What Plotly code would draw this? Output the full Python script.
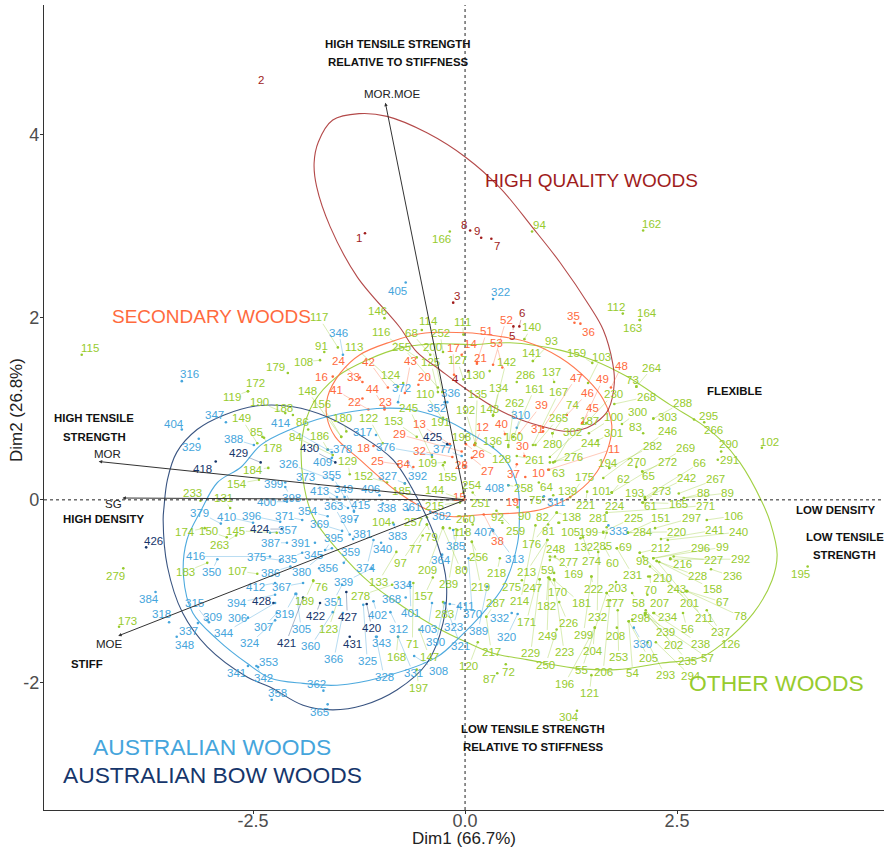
import plotly.graph_objects as go

# ---------- values ----------
hq_ids = [1,2,3,4,5,6,7,8,9]
hq_dim1 = [-1.18,-2.41,-.14,.04,.57,.64,.31,.06,.19]
hq_dim2 = [2.92,4.60,2.16,1.41,1.90,1.90,2.86,2.95,2.87]
hq_dx = [-6,0,4,-13,-1,3,6,-6,-4]
hq_dy = [5,0,-7,8,10,-13,7,-6,-7]

sec_ids = [10,11,12,13,14,15,16,17,18,19,20,21,22,23,24,25,26,27,28,29,30,31,32,33,34,35,36,37,38,39,40,41,42,43,44,45,46,47,48,49,51,52,53]
sec_dim1 = [.71,.98,.11,-.18,-.04,-.02,-1.56,-.13,-1.08,.61,-.55,.14,-1.21,-.95,-1.21,-.79,.01,.08,-.02,-.04,.70,.92,-.15,-1.24,-.61,1.29,1.36,.61,.22,.64,.47,-1.14,-.91,-.71,-.95,1.38,1.20,.92,1.72,1.39,.14,.33,.44]
sec_dim2 = [.25,.33,.60,.61,1.59,0,1.35,1.37,.59,0,1.26,1.49,1.11,.99,1.29,.39,.61,.46,.38,.53,.48,.75,.47,1.34,.36,1.94,1.93,.39,-.16,.73,.72,.99,1.23,1.17,1.01,.84,.93,.79,1.23,.85,1.51,1.48,1.45]
sec_dx = [13,66,8,-30,9,-4,-11,-1,-10,-4,6,4,-8,1,-24,-21,13,16,-2,-62,-2,-6,-33,-6,-10,-1,8,-3,14,22,-3,-32,-19,6,-12,10,21,33,11,20,10,13,-6]
sec_dy = [-4,-21,-18,-20,-11,-3,0,-27,2,2,-8,-6,3,-7,-21,-3,10,13,0,-17,-10,-2,-6,-1,-3,-7,8,10,27,-28,-10,-19,-26,-32,-19,-15,-22,-50,-22,-43,-31,-45,-24]

aus_ids = [305,306,307,308,309,310,311,312,313,315,316,317,318,319,320,321,322,323,324,325,326,327,328,329,330,331,332,333,334,335,336,337,338,339,340,341,342,343,344,345,346,347,348,349,350,351,352,353,354,355,356,357,358,359,360,361,362,363,364,365,366,367,368,369,370,371,372,373,374,375,376,377,378,379,380,381,382,383,384,385,386,387,388,389,390,391,392,394,395,396,397,398,399,400,401,402,403,404,405,406,407,408,409,410,411,412,413,414,415,416]
aus_dim1 = [-1.99,-2.56,-2.22,-.60,-3.02,.61,.93,-.88,.33,-3.04,-3.34,-1.05,-3.49,-2.00,.62,-.24,.33,-.08,-2.24,-1.20,-1.56,-.71,-1.05,-3.14,1.99,-.79,.55,1.69,-.65,-1.92,-.24,-3.15,-.97,-1.10,-.99,-2.56,-2.46,-1.04,-2.24,-1.57,-1.44,-2.82,-3.40,-1.31,-2.92,-1.45,-.21,-2.44,-1.62,-1.42,-1.72,-2.30,-2.28,-1.43,-1.56,-.67,-1.67,-1.36,-.27,-1.62,-1.44,-1.91,-.70,-1.45,.04,-1.92,-.79,-1.51,-1.08,-2.18,-.39,-.04,-1.62,-2.88,-1.69,-1.32,-.41,-.84,-3.65,-.14,-2.06,-2.10,-2.49,.26,-.24,-1.77,-.67,-2.24,-1.65,-2.18,-1.29,-2.12,-2.12,-2.10,-.65,-1.08,-.39,-3.34,-.70,-1.01,.33,.51,-1.57,-2.50,-.18,-2.24,-1.38,-1.57,-1.31,-2.30]
aus_dim2 = [-1.03,-1.29,-1.24,-1.71,-1.34,.79,.04,-1.23,-.34,-1.32,1.30,.71,-1.34,-1.03,-1.25,-1.13,2.20,-1.17,-1.32,-1.15,.22,.18,-1.50,.67,-1.40,-1.50,-1.24,-.28,-.90,-.58,1.07,-1.35,-.04,-.75,-.47,-1.82,-1.82,-1.50,-1.13,-.53,1.59,.85,-1.50,-.12,-.65,-.93,1.07,-1.83,-.18,.03,-.75,-.36,-2.19,-.69,-1.23,-.11,-2.09,-.38,-.60,-2.24,-1.24,-.91,-1.07,-.34,-.64,-.22,1.07,.03,-.44,-.66,.49,.48,.55,-.26,-.61,-.43,-.13,-.27,-1.01,-.33,-.73,-.47,.60,-.95,-1.13,-.47,.41,-1.04,-.55,-.24,-.22,.14,.19,-.02,-.93,-1.11,-1.13,.77,2.38,.05,-.33,.16,.46,-.25,-1.14,-.91,-.09,.52,-.13,-.62]
aus_dx = [5,-10,-13,24,4,4,12,8,21,-13,8,-14,-8,-11,-11,16,7,-5,-25,4,-44,-17,8,-7,9,15,-12,10,-7,-15,6,-9,4,-28,1,-11,7,5,-51,-18,-4,-11,8,-10,-6,-9,-11,10,-20,-13,9,17,6,7,-22,3,-7,-16,-1,-8,-9,-22,-14,-23,4,-18,3,-32,-7,-24,-46,-19,15,-21,-20,9,11,4,-7,2,-20,-16,-20,-9,-9,-14,9,-38,8,-29,-6,6,-12,-20,1,4,-4,-8,-8,-9,-10,-14,-9,-27,15,-20,-29,-51,7,-75]
aus_dy = [35,0,14,15,-5,-13,6,17,28,-17,-7,-3,-8,20,23,43,-7,20,23,56,-16,-7,40,8,16,36,5,6,3,6,-9,8,4,14,6,7,12,6,30,7,-22,-7,8,-22,13,17,6,-5,-5,-22,0,-3,-7,-11,34,-3,-7,-29,5,8,46,4,1,-7,56,-4,-14,-20,28,-3,-8,-7,-1,-11,16,-5,4,11,7,16,6,0,-6,44,39,0,14,8,-12,-6,-1,11,1,0,28,14,26,-6,8,-6,2,3,4,-6,2,4,-17,-29,-7,0]

bow_ids = [418,420,421,422,424,425,426,427,428,429,430,431]
bow_dim1 = [-2.94,-1.16,-1.91,-1.71,-2.16,-.21,-3.76,-1.40,-2.26,-2.41,-1.53,-1.36]
bow_dim2 = [.42,-1.14,-1.07,-1.13,-.32,.61,-.52,-1.01,-1.13,.41,.41,-1.50]
bow_dx = [-13,5,-17,-5,-22,-15,7,1,-12,-22,-26,3]
bow_dy = [7,24,45,13,0,-7,-6,25,-2,-9,-14,7]

oth_ids = [54,55,56,57,58,59,60,61,62,63,64,65,66,67,68,69,70,71,72,73,74,75,76,77,78,79,80,81,82,83,84,85,86,87,88,89,90,91,92,93,94,97,98,99,
 100,101,102,103,104,105,106,107,108,109,110,111,112,113,114,115,116,117,118,119,120,121,122,123,124,125,126,127,128,129,130,131,132,133,134,135,136,137,138,139,140,141,142,143,144,145,146,147,148,149,
 150,151,152,153,154,155,156,157,158,159,160,161,162,163,164,165,166,167,168,169,170,171,172,173,174,175,176,177,178,179,180,181,182,183,184,185,186,187,188,189,190,191,192,193,194,195,196,197,198,199,
 200,201,202,203,204,205,206,207,208,209,210,211,212,213,214,215,216,217,218,219,220,221,222,223,224,225,226,227,228,229,230,231,232,233,234,235,236,237,238,239,240,241,242,243,244,245,246,247,248,249,
 250,251,252,253,254,255,256,257,258,259,260,261,262,263,264,265,266,267,268,269,270,271,272,273,274,275,276,277,278,279,280,281,282,283,284,285,286,287,288,289,290,291,292,293,294,295,296,297,298,299,
 300,301,302,303,304]
oth_dim1 = [1.93,1.67,2.57,2.12,1.97,1.05,1.65,2.10,1.73,.99,.87,2.09,2.12,2.62,-.41,1.79,2.18,-.61,.48,2.02,1.03,.92,-1.79,-.50,2.61,-.45,-.26,1.11,.98,2.10,-1.56,-2.37,-1.85,.38,2.58,2.58,.62,-1.66,.44,.80,.79,-.45,2.06,2.22,
 1.46,1.73,3.50,1.45,-.85,1.10,2.85,-2.45,-1.71,-.24,-.26,-.02,1.86,-.79,-.51,-4.52,-.57,-1.50,-.18,-2.56,.15,1.49,-.97,-1.49,-.73,-.32,2.10,-.02,.11,-1.36,.29,-2.77,1.36,-.81,.33,.12,.33,1.05,1.08,1.04,.70,.80,.33,.33,-.02,-2.22,-.95,-.54,-1.46,-2.45,
 -2.81,1.92,-.92,-.57,-2.43,-.26,-1.46,-.38,2.29,1.50,.51,.57,2.10,2.06,2.06,2.09,-.18,.80,-.79,1.06,1.00,.97,-2.56,-4.08,-3.07,1.24,1.08,1.67,-2.39,-2.09,-1.40,1.05,.98,-3.04,-2.32,-.71,-1.62,1.00,-2.03,-1.79,-2.12,-.26,.12,2.12,1.70,4.04,1.53,-.57,.12,1.63,
 -.27,2.18,2.13,1.78,1.53,1.93,1.71,2.15,1.79,-.26,2.16,2.26,2.06,.97,.83,-.06,2.42,.25,.41,.08,1.92,1.44,1.49,1.05,1.67,1.63,1.11,2.46,2.26,.88,1.43,1.79,1.57,-3.12,2.23,2.12,2.90,2.85,2.22,2.13,2.39,2.31,2.12,2.61,1.04,-.39,1.63,.88,1.00,.99,
 1.08,.09,-.26,1.80,-.02,-.32,.08,-.45,.51,.37,.09,.61,.51,-2.70,2.02,.83,2.82,2.52,1.76,1.73,2.02,1.67,2.09,2.12,1.39,.67,1.00,1.00,-.86,-4.03,1.03,1.67,1.70,-.26,1.92,1.67,.61,.25,2.22,-.09,3.02,2.98,2.42,2.15,2.25,2.70,2.22,2.24,1.97,1.49,
 1.85,1.56,1.06,2.22,1.32]
oth_dim2 = [-1.33,-1.02,-1.24,-1.26,-1.02,-.80,-.53,-.03,.08,.33,.19,.31,.03,-1.00,1.59,-.53,-.84,-.91,-1.80,1.24,.73,.03,-.88,-.39,-1.00,-.27,-.31,-.25,-.27,.73,.49,.68,.77,-1.90,.02,.02,-.08,1.62,-.25,1.52,2.94,-.27,-.58,-.64,
 .73,.08,.57,1.28,-.25,-.25,-.22,-.81,1.53,.41,.88,1.81,2.04,1.24,1.86,1.59,1.56,1.67,-.31,1.19,-1.56,-1.92,.62,-1.07,1.28,1.18,-.62,1.32,.60,.28,1.41,-.09,-.42,-.57,.93,.60,.58,1.29,-.14,.05,1.76,1.52,.92,.93,0,-.36,1.99,-1.42,.69,.62,
 -.41,-.36,.19,.69,.22,.38,.69,-.85,-.68,1.50,.60,.69,2.95,1.97,1.97,-.03,2.94,.60,-1.50,-.62,-.87,-.44,1.19,-1.39,-.31,.03,-.14,-1.02,.69,1.39,.75,-.88,-.85,-.69,.35,.18,.55,.47,.93,-.89,.95,.90,.62,.03,.35,-.73,-1.40,-1.86,.62,-.36,
 1.18,-.73,-1.24,-.90,-1.40,-1.33,-1.10,-1.04,-1.40,-.30,-.84,-.67,-.58,-.44,-.28,-.03,-.64,-1.28,-.64,-.46,-.36,.09,-.84,-.87,-.14,-.35,-1.12,-.62,-.67,-.87,.84,-.53,-.57,-.01,-1.24,-1.24,-.76,-1.21,-1.24,-1.21,-.44,-.43,.02,-1.00,.41,.47,.24,-.87,-.66,-.85,
 -1.42,.08,1.62,-1.21,.08,1.23,-.46,-.19,.16,-.12,-.27,.48,.58,-.39,1.24,.60,.85,.07,1.05,.08,.36,-.14,.31,0,-.41,-.88,.41,-.62,-.93,-.75,.73,-.30,.35,-1.12,-.36,-.36,1.29,-1.28,.89,-.33,.53,.44,-.65,-1.56,-1.56,.88,-.64,-.31,-1.31,-.84,
 .83,.65,.42,.89,-2.31]
oth_dx = [4,-25,4,63,6,-7,8,7,12,9,8,6,55,35,-19,9,1,-1,3,-4,20,-8,8,-7,54,5,18,-11,-6,-8,-37,-8,-6,-8,20,44,7,-3,-5,19,7,-26,3,69,
 25,-10,8,13,-11,12,27,-20,-17,-17,-18,-1,-7,-44,7,8,-36,-19,12,-16,-9,-2,-14,-10,-12,-7,87,-6,27,-2,-14,-7,3,-18,6,2,-1,-3,15,14,7,-1,13,-4,-28,-41,-7,10,-34,-16,
 -18,33,-24,-23,-22,4,-20,-9,53,-16,5,21,8,-7,7,36,-8,26,-2,19,8,-21,8,8,-20,14,-25,8,10,-12,-4,27,-2,-22,-15,-3,-8,40,-9,-9,-26,-3,-10,-10,-1,-7,-30,2,-14,-15,
 -10,40,28,1,-2,20,-7,12,-1,-16,14,47,21,-21,-15,-25,12,5,-3,9,49,-2,2,10,8,30,9,40,41,-9,27,16,-1,-8,14,43,21,14,47,20,71,54,42,-10,38,-23,64,-7,6,-2,
 -11,8,-3,1,9,-36,7,-13,15,19,-7,18,6,-17,16,23,9,37,32,74,0,99,25,17,9,-10,24,19,-32,-8,0,-8,43,1,15,-4,9,9,29,-9,7,12,70,18,35,14,47,36,8,-8,
 16,16,18,14,-8]
oth_dy = [52,77,16,43,10,-3,15,3,-14,3,4,4,-34,11,-22,-1,13,61,8,-7,-28,3,7,14,25,12,42,8,-8,-6,-18,-6,-8,6,-5,-5,9,-6,-6,-20,-6,38,8,-11,
 -16,-2,-6,-26,-1,9,-4,-3,2,1,-26,-13,-7,-40,-9,-7,-25,-30,4,6,24,18,-25,31,-8,-30,88,-19,14,-13,4,-10,9,30,-27,-51,-6,-10,4,-4,-12,-8,-54,-6,-10,-2,-7,27,-46,-25,
 -6,-15,-7,-16,4,12,-33,19,27,-10,-8,-48,-7,8,-7,1,8,-53,20,18,13,82,-8,-6,4,-20,31,10,11,-6,-13,23,29,9,2,8,-14,-36,-7,20,-11,4,-33,-4,-5,7,56,18,-6,-1,
 -45,36,32,6,23,37,72,8,8,43,1,57,-5,32,76,3,6,35,15,45,-1,13,12,73,-7,-14,21,4,15,74,-29,27,65,-8,4,48,7,22,31,22,-8,-9,-20,-2,-19,-49,-47,9,-11,59,
 35,10,-19,47,-8,-41,15,5,3,20,-6,4,-44,10,-19,-27,8,-14,-7,-45,-5,-7,-10,-9,24,7,-5,6,11,8,11,-9,-22,12,-1,13,-7,-14,-16,54,-7,0,0,33,34,-4,-10,-10,-1,58,
 -12,-8,-30,-2,6]

vec_names = ["MOR.MOE","MOR","SG","MOE"]
vec_dim1 = [-.94,-4.32,-4.04,-4.09]
vec_dim2 = [4.35,.42,.02,-1.49]
vec_lab1 = [-.86,-4.22,-4.14,-4.19]
vec_lab2 = [4.44,.50,-.05,-1.58]

note_text = ["HIGH TENSILE STRENGTH","RELATIVE TO STIFFNESS","HIGH TENSILE","STRENGTH","HIGH DENSITY","STIFF","FLEXIBLE","LOW DENSITY","LOW TENSILE","STRENGTH","LOW TENSILE STRENGTH","RELATIVE TO STIFFNESS"]
note_x = [-.79,-.79,-4.37,-4.37,-4.26,-4.46,3.18,4.37,4.48,4.48,.80,.80]
note_y = [4.99,4.80,.90,.69,-.21,-1.80,1.19,-.11,-.41,-.60,-2.51,-2.71]

# outlines
hq_ell1 = [-1.25,-.92,-.45,.01,.41,.79,1.12,1.47,1.63,1.74,1.76,1.69,1.59,1.44,1.20,.97,.65,.33,-.06,-.29,-.57,-.77,-1.27,-1.59,-1.75,-1.78,-1.73,-1.56]
hq_ell2 = [4.23,4.20,4.02,3.75,3.42,2.99,2.60,2.12,1.86,1.50,1.28,.99,.88,.79,.75,.79,.88,1.02,1.26,1.42,1.62,1.89,2.44,2.99,3.43,3.69,3.92,4.16]
sec_ell1 = [.02,.33,.73,1.12,1.44,1.63,1.73,1.67,1.51,1.24,.92,.65,.21,-.21,-.53,-.83,-1.24,-1.53,-1.63,-1.62,-1.47,-1.24,-.88,-.53]
sec_ell2 = [1.83,1.80,1.73,1.56,1.32,1.10,.82,.52,.25,.03,-.10,-.14,-.16,-.18,-.07,.11,.44,.69,.91,1.13,1.39,1.59,1.73,1.82]
aus_ell1 = [-1.63,-1.04,-.65,-.29,.06,.45,.62,.64,.62,.45,.21,-.06,-.33,-.97,-1.51,-1.91,-2.30,-2.57,-2.92,-3.21,-3.32,-3.28,-3.11,-2.92,-2.64,-2.41,-2.06]
aus_ell2 = [.91,1.00,.99,.90,.73,.47,.14,-.14,-.47,-.95,-1.24,-1.50,-1.72,-1.94,-2.03,-2.01,-1.95,-1.79,-1.53,-1.24,-.84,-.44,-.11,.19,.36,.60,.77]
bow_ell1 = [-3.55,-3.51,-3.40,-3.16,-2.84,-2.45,-2.03,-1.63,-1.24,-.85,-.57,-.33,-.22,-.26,-.45,-.80,-1.20,-1.56,-1.91,-2.30,-2.57,-3.04,-3.33,-3.51,-3.56]
bow_ell2 = [-.08,.22,.52,.77,.93,1.03,1.02,.91,.71,.44,.03,-.47,-.91,-1.35,-1.79,-2.08,-2.25,-2.30,-2.25,-2.05,-1.94,-1.61,-1.24,-.73,-.22]
oth_ell1 = [.06,.53,1.12,1.51,1.91,2.42,2.77,3.01,3.24,3.50,3.60,3.68,3.62,3.40,3.04,2.77,2.30,1.79,1.27,.73,.33,.02,-.33,-.73,-1.12,-1.50,-1.79,-1.91,-1.92,-1.79,-1.51,-1.16,-.73,-.29]
oth_ell2 = [1.70,1.72,1.64,1.53,1.35,1.04,.84,.66,.41,-.02,-.25,-.60,-.88,-1.24,-1.57,-1.73,-1.79,-1.86,-1.84,-1.75,-1.68,-1.56,-1.40,-1.17,-.91,-.55,-.19,.22,.69,1.06,1.35,1.53,1.67,1.71]

title_text = ["HIGH QUALITY WOODS","SECONDARY WOODS","OTHER WOODS","AUSTRALIAN WOODS","AUSTRALIAN BOW WOODS"]
title_x = [1.49,-2.99,3.67,-2.98,-2.98]
title_y = [3.50,2.01,-2.01,-2.71,-3.01]
title_size = [19,19,22.8,22.8,22.8]

# ---------- styles ----------
C_HQ, C_SEC, C_AUS, C_BOW, C_OTH = "#A01C1C", "#FF6A3D", "#45A5DC", "#16366B", "#97CB2E"
title_col = [C_HQ, C_SEC, C_OTH, C_AUS, C_BOW]
FONT = "Liberation Sans"
NO_DOT = {2}   # its dot does not show in the picture

groups = [
    (oth_ids, oth_dim1, oth_dim2, oth_dx, oth_dy, oth_ell1, oth_ell2, C_OTH, "rgba(151,203,46,0.5)", "rgba(151,203,46,0.9)"),
    (sec_ids, sec_dim1, sec_dim2, sec_dx, sec_dy, sec_ell1, sec_ell2, C_SEC, "rgba(255,106,61,0.5)", "rgba(255,106,61,0.9)"),
    (aus_ids, aus_dim1, aus_dim2, aus_dx, aus_dy, aus_ell1, aus_ell2, C_AUS, "rgba(69,165,220,0.55)", "rgba(69,165,220,0.95)"),
    (bow_ids, bow_dim1, bow_dim2, bow_dx, bow_dy, bow_ell1, bow_ell2, C_BOW, "rgba(22,54,107,0.5)", "rgba(22,54,107,0.85)"),
    (hq_ids, hq_dim1, hq_dim2, hq_dx, hq_dy, hq_ell1, hq_ell2, C_HQ, "rgba(160,28,28,0.5)", "rgba(160,28,28,0.8)"),
]

fig = go.Figure()
ann = []
for ids, d1, d2, dx, dy, e1, e2, col, lead, ell in groups:
    assert len(ids) == len(d1) == len(d2) == len(dx) == len(dy), (ids[0], len(ids), len(d1), len(d2), len(dx), len(dy))
    fig.add_trace(go.Scatter(x=e1 + e1[:1], y=e2 + e2[:1], mode="lines",
                             line=dict(color=ell, width=1.1, shape="spline", smoothing=1.0),
                             hoverinfo="skip", showlegend=False))
    fig.add_trace(go.Scatter(x=[None if i in NO_DOT else a for i, a in zip(ids, d1)], y=d2,
                             mode="markers", marker=dict(color=col, size=2.6),
                             text=ids, hoverinfo="text", showlegend=False))
    for i, a, b, u, v in zip(ids, d1, d2, dx, dy):
        if abs(u) > 14 or abs(v) > 9:
            ann.append(dict(x=a, y=b, xref="x", yref="y", text=str(i), showarrow=True, arrowhead=0,
                            arrowwidth=0.7, arrowcolor=lead, ax=u, ay=v, axref="pixel", ayref="pixel",
                            standoff=0, startstandoff=0, font=dict(family=FONT, size=11.5, color=col),
                            borderpad=0))
        else:
            ann.append(dict(x=a, y=b, xref="x", yref="y", text=str(i), showarrow=False,
                            xshift=u, yshift=-v, font=dict(family=FONT, size=11.5, color=col),
                            borderpad=0))

for x, y in zip(vec_dim1, vec_dim2):
    ann.append(dict(x=x, y=y, xref="x", yref="y", ax=0, ay=0, axref="x", ayref="y", text="",
                    showarrow=True, arrowhead=2, arrowsize=0.7, arrowwidth=1, arrowcolor="#333333"))
for t, x, y in zip(vec_names, vec_lab1, vec_lab2):
    ann.append(dict(x=x, y=y, xref="x", yref="y", text=t, showarrow=False,
                    font=dict(family=FONT, size=11.5, color="#222222")))
for t, x, y in zip(note_text, note_x, note_y):
    ann.append(dict(x=x, y=y, xref="x", yref="y", text="<b>%s</b>" % t, showarrow=False,
                    font=dict(family=FONT, size=11.4, color="#111111")))
for t, x, y, s, c in zip(title_text, title_x, title_y, title_size, title_col):
    ann.append(dict(x=x, y=y, xref="x", yref="y", text=t, showarrow=False,
                    font=dict(family=FONT, size=s, color=c)))

# axis titles placed relative to the plot area
ann.append(dict(x=0.5, y=-0.035, xref="paper", yref="paper", text="Dim1 (66.7%)", showarrow=False,
                xanchor="center", yanchor="middle", font=dict(family=FONT, size=17, color="#222222")))
ann.append(dict(x=-0.032, y=0.497, xref="paper", yref="paper", text="Dim2 (26.8%)", showarrow=False,
                xanchor="center", yanchor="middle", textangle=-90,
                font=dict(family=FONT, size=17, color="#222222")))

axis_style = dict(showgrid=False, zeroline=False, showline=True, linecolor="#333333", linewidth=1.2,
                  ticks="outside", ticklen=3, tickcolor="#333333",
                  tickfont=dict(family=FONT, size=18, color="#4D4D4D"))
fig.update_layout(
    width=884, height=850, margin=dict(l=44, r=0, t=5, b=40),
    paper_bgcolor="white", plot_bgcolor="white", showlegend=False,
    annotations=ann,
    shapes=[
        dict(type="line", xref="x", yref="paper", x0=0, x1=0, y0=0, y1=1,
             line=dict(color="#222222", width=1, dash="3px,3px")),
        dict(type="line", xref="paper", yref="y", x0=0, x1=1, y0=0, y1=0,
             line=dict(color="#222222", width=1, dash="3px,3px")),
    ],
    xaxis=dict(range=[-4.965, 4.94], tickvals=[-2.5, 0, 2.5], ticktext=["-2.5", "0.0", "2.5"],
               ticklabelstandoff=-9, **axis_style),
    yaxis=dict(range=[-3.397, 5.42], tickvals=[-2, 0, 2, 4], ticktext=["-2", "0", "2", "4"],
               ticklabelstandoff=-3, **axis_style),
)
fig.write_html("out.html", config=dict(displayModeBar=False),
               post_script="document.body.style.margin='0';document.body.style.overflow='hidden';")
